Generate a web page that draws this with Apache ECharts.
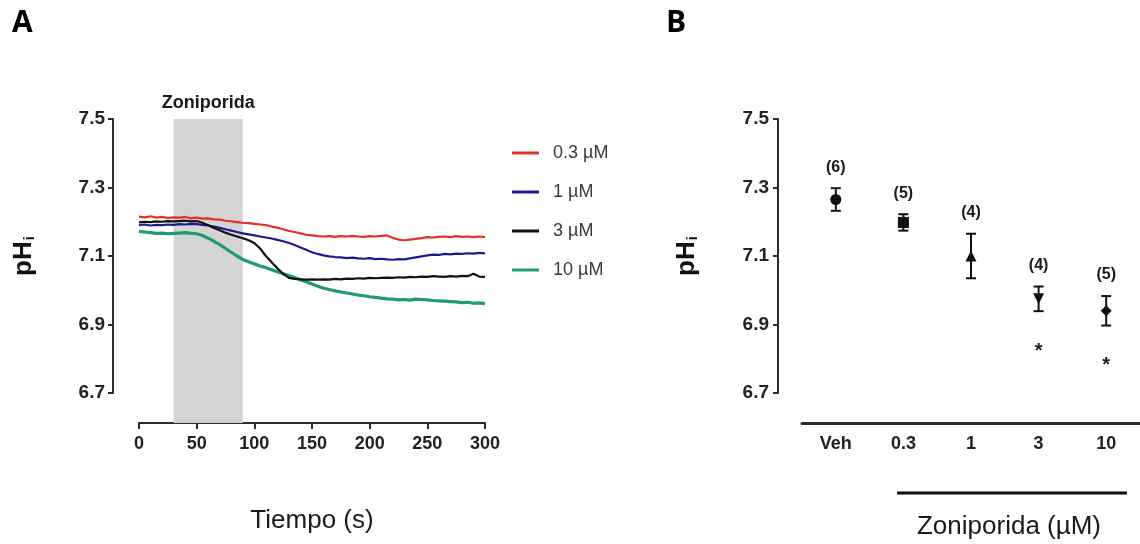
<!DOCTYPE html>
<html>
<head>
<meta charset="utf-8">
<script src="https://cdn.jsdelivr.net/npm/echarts@6/dist/echarts.min.js"></script>
<style>
html,body{margin:0;padding:0;background:#fff;}
#c{width:1140px;height:544px;}
</style>
</head>
<body>
<div id="c"></div>
<script>
// ---------- Panel A data ----------
var times = [0,5,10,15,20,25,30,35,40,45,50,55,60,65,70,75,80,85,90,95,100,105,110,115,120,125,130,135,140,145,150,155,160,165,170,175,180,185,190,195,200,205,210,215,220,225,230,235,240,245,250,255,260,265,270,275,280,285,290,295,300];
var seriesNames = ['0.3 \u00b5M','1 \u00b5M','3 \u00b5M','10 \u00b5M'];
var red03 = [7.215,7.213,7.216,7.212,7.214,7.211,7.213, 7.212,7.214,7.210,7.212,7.209,7.210, 7.207,7.206,7.203,7.201,7.199,7.197,
  7.196,7.194,7.192,7.190,7.186,7.183,7.178,7.173, 7.170,7.166,7.162,7.160,7.158,7.157,
  7.158,7.156,7.158,7.157,7.159,7.157,7.156,7.158,7.157,7.159,7.160, 7.153,7.148,7.146,7.148,7.150,7.152,
  7.155,7.154,7.156,7.157,7.155,7.158,7.156,7.157,7.155,7.157,7.155];
var blue1 = [7.190,7.192,7.189,7.191,7.190,7.192,7.191, 7.193,7.192,7.194,7.193,7.191,7.189, 7.186,7.182,7.178,7.174,7.170,7.166,
  7.163,7.160,7.157,7.154,7.151,7.147,7.143,7.138, 7.132,7.125,7.118,7.111,7.106,7.102,
  7.099,7.097,7.096,7.094,7.095,7.093,7.092,7.094,7.091,7.092,7.090, 7.089,7.091,7.090,7.093,7.096,7.099,
  7.102,7.104,7.103,7.106,7.105,7.107,7.106,7.108,7.107,7.109,7.108];
var black3 = [7.198,7.200,7.199,7.201,7.200,7.202,7.201, 7.202,7.203,7.201,7.202,7.197,7.190, 7.182,7.175,7.168,7.162,7.157,7.152,
  7.146,7.138,7.122,7.100,7.082,7.064,7.048,7.036, 7.033,7.032,7.031,7.032,7.031,7.032,
  7.031,7.033,7.032,7.034,7.033,7.035,7.034,7.036,7.035,7.036,7.037, 7.036,7.038,7.037,7.039,7.038,7.040,
  7.039,7.041,7.040,7.039,7.041,7.040,7.042,7.041,7.048,7.040,7.039];
var green10 = [7.172,7.170,7.168,7.166,7.167,7.165,7.166, 7.167,7.168,7.166,7.165,7.160,7.152, 7.143,7.133,7.122,7.111,7.100,7.090,
  7.083,7.077,7.071,7.066,7.060,7.054,7.048,7.043, 7.037,7.031,7.025,7.018,7.012,7.006,
  7.002,6.998,6.995,6.992,6.989,6.986,6.984,6.981,6.979,6.977,6.975, 6.974,6.972,6.973,6.971,6.974,6.973,
  6.972,6.970,6.969,6.968,6.967,6.966,6.964,6.965,6.962,6.963,6.961];
var zoniRange = [30, 90];
var xTicksA = [0, 300, 50];     // min, max, interval
var yTicks = [6.7, 7.5, 0.2];   // min, max, interval

// ---------- Panel B data ----------
var categoriesB = ['Veh','0.3','1','3','10'];
var meansB = [7.265, 7.198, 7.100, 6.975, 6.940];
var semB   = [0.033, 0.024, 0.065, 0.036, 0.043];
var nB     = [6, 5, 4, 4, 5];
var sigB   = ['', '', '', '*', '*'];
var markerShapes = ['circle','rect','triangle','path://M0,0 L10,0 L5,10 Z','diamond'];

var colors = ['#e2312d','#1b1a8e','#111111','#1f9a72'];
var FONT = '"Liberation Sans", Arial, sans-serif';

function pts(vals){ return times.map(function(t,i){ return [t, vals[i]]; }); }

var chart = echarts.init(document.getElementById('c'), null, {renderer:'canvas'});

var axisLineStyle = {color:'#2b2b2b', width:2};
var yLabel = function(v){ return v.toFixed(1); };
var phName = '{a|pH}{b|i}';
var phRich = {a:{fontSize:26, fontWeight:'bold', fontFamily:FONT, color:'#111', verticalAlign:'bottom'},
              b:{fontSize:15, fontWeight:'bold', fontFamily:FONT, color:'#111', verticalAlign:'bottom', padding:[14,0,0,1]}};

var option = {
  backgroundColor:'#fff',
  animation:false,
  textStyle:{fontFamily:FONT},
  grid:[
    {left:139, width:346, top:119, height:274},
    {left:802, width:347, top:119, height:274}
  ],
  xAxis:[
    {gridIndex:0, type:'value', min:xTicksA[0], max:xTicksA[1], interval:xTicksA[2], offset:30,
     axisLine:{onZero:false, lineStyle:axisLineStyle}, axisTick:{length:6, lineStyle:axisLineStyle},
     axisLabel:{margin:12, fontSize:18, fontWeight:'bold', color:'#222', fontFamily:FONT},
     splitLine:{show:false},
     name:'Tiempo (s)', nameLocation:'middle', nameGap:85,
     nameTextStyle:{fontSize:26, color:'#1a1a1a', fontFamily:FONT}},
    {gridIndex:1, type:'category', data:categoriesB, boundaryGap:true, offset:30,
     axisLine:{onZero:false, lineStyle:{color:'#2b2b2b', width:3}}, axisTick:{alignWithLabel:true, length:7, lineStyle:axisLineStyle},
     axisLabel:{margin:12, fontSize:18, fontWeight:'bold', color:'#222', fontFamily:FONT},
     splitLine:{show:false}}
  ],
  yAxis:[
    {gridIndex:0, type:'value', min:yTicks[0], max:yTicks[1], interval:yTicks[2], offset:26,
     axisLine:{show:true, onZero:false, lineStyle:axisLineStyle}, axisTick:{show:true, length:5, lineStyle:axisLineStyle},
     axisLabel:{margin:8, fontSize:19, fontWeight:'bold', color:'#222', fontFamily:FONT, formatter:yLabel},
     splitLine:{show:false},
     name:phName, nameLocation:'middle', nameGap:76, nameRotate:90,
     nameTextStyle:{rich:phRich}},
    {gridIndex:1, type:'value', min:yTicks[0], max:yTicks[1], interval:yTicks[2], offset:24,
     axisLine:{show:true, onZero:false, lineStyle:axisLineStyle}, axisTick:{show:true, length:5, lineStyle:axisLineStyle},
     axisLabel:{margin:9, fontSize:19, fontWeight:'bold', color:'#222', fontFamily:FONT, formatter:yLabel},
     splitLine:{show:false},
     name:phName, nameLocation:'middle', nameGap:78, nameRotate:90,
     nameTextStyle:{rich:phRich}}
  ],
  legend:{
    data:seriesNames, orient:'vertical', left:507, top:139, itemGap:21,
    icon:'rect', itemWidth:27, itemHeight:3,
    textStyle:{fontSize:18, color:'#3a3a3a', fontFamily:FONT, padding:[0,0,0,9]}
  },
  graphic:[
    {type:'text', left:12, top:8, style:{text:'A', font:'bold 30px "Open Sans", sans-serif', fill:'#000'}},
    {type:'text', left:666, top:8, style:{text:'B', font:'bold 30px "Open Sans", sans-serif', fill:'#000'}},
    {type:'line', shape:{x1:897, y1:493, x2:1127, y2:493}, style:{stroke:'#111', lineWidth:3}},
    {type:'text', x:1009, y:527, style:{text:'Zoniporida (\u00b5M)', font:'26px "Liberation Sans", Arial, sans-serif', fill:'#1a1a1a', align:'center', verticalAlign:'middle'}}
  ],
  series:[
    {type:'custom', xAxisIndex:0, yAxisIndex:0, clip:false, silent:true, z:1,
     data:[zoniRange],
     renderItem:function(params, api){
       var p1 = api.coord([api.value(0), yTicks[1]]);
       var p2 = api.coord([api.value(1), yTicks[0]]);
       var bottom = p2[1] + 30;
       return {type:'group', children:[
         {type:'rect', shape:{x:p1[0], y:p1[1], width:p2[0]-p1[0], height:bottom-p1[1]}, style:{fill:'#d4d4d4'}},
         {type:'text', style:{text:'Zoniporida', x:(p1[0]+p2[0])/2, y:p1[1]-16, align:'center', verticalAlign:'middle',
           font:'bold 18px "Liberation Sans", Arial, sans-serif', fill:'#1a1a1a'}}
       ]};
     }},
    {name:seriesNames[0], type:'line', xAxisIndex:0, yAxisIndex:0, data:pts(red03), showSymbol:false, symbol:'none', z:3,
     lineStyle:{color:colors[0], width:2.2}, itemStyle:{color:colors[0]}},
    {name:seriesNames[1], type:'line', xAxisIndex:0, yAxisIndex:0, data:pts(blue1), showSymbol:false, symbol:'none', z:3,
     lineStyle:{color:colors[1], width:2.2}, itemStyle:{color:colors[1]}},
    {name:seriesNames[2], type:'line', xAxisIndex:0, yAxisIndex:0, data:pts(black3), showSymbol:false, symbol:'none', z:4,
     lineStyle:{color:colors[2], width:2.2}, itemStyle:{color:colors[2]}},
    {name:seriesNames[3], type:'line', xAxisIndex:0, yAxisIndex:0, data:pts(green10), showSymbol:false, symbol:'none', z:3,
     lineStyle:{color:colors[3], width:3.2}, itemStyle:{color:colors[3]}},
    // error bars panel B
    {type:'custom', xAxisIndex:1, yAxisIndex:1, clip:false, silent:true, z:5,
     data:meansB.map(function(m,i){ return [i, m, semB[i], nB[i]]; }),
     renderItem:function(params, api){
       var x = api.value(0), m = api.value(1), e = api.value(2), n = api.value(3);
       var top = api.coord([x, m+e]);
       var bot = api.coord([x, m-e]);
       var w = 5;
       var ls = {stroke:'#111', lineWidth:2};
       var ch = [
         {type:'line', shape:{x1:top[0], y1:top[1], x2:bot[0], y2:bot[1]}, style:ls},
         {type:'line', shape:{x1:top[0]-w, y1:top[1], x2:top[0]+w, y2:top[1]}, style:ls},
         {type:'line', shape:{x1:bot[0]-w, y1:bot[1], x2:bot[0]+w, y2:bot[1]}, style:ls},
         {type:'text', style:{text:'(' + n + ')', x:top[0], y:top[1]-21, align:'center', verticalAlign:'middle',
           font:'bold 16px "Liberation Sans", Arial, sans-serif', fill:'#1a1a1a'}}
       ];
       var s = sigB[params.dataIndex];
       if (s) ch.push({type:'text', style:{text:s, x:bot[0], y:bot[1]+40, align:'center', verticalAlign:'middle',
           font:'bold 20px "Liberation Sans", Arial, sans-serif', fill:'#1a1a1a'}});
       return {type:'group', children:ch};
     }},
    {type:'scatter', xAxisIndex:1, yAxisIndex:1, z:6, silent:true,
     data:meansB.map(function(m,i){ return {value:[i, m], symbol:markerShapes[i]}; }),
     symbolSize:11, itemStyle:{color:'#111', opacity:1}}
  ]
};
chart.setOption(option);
</script>
</body>
</html>
